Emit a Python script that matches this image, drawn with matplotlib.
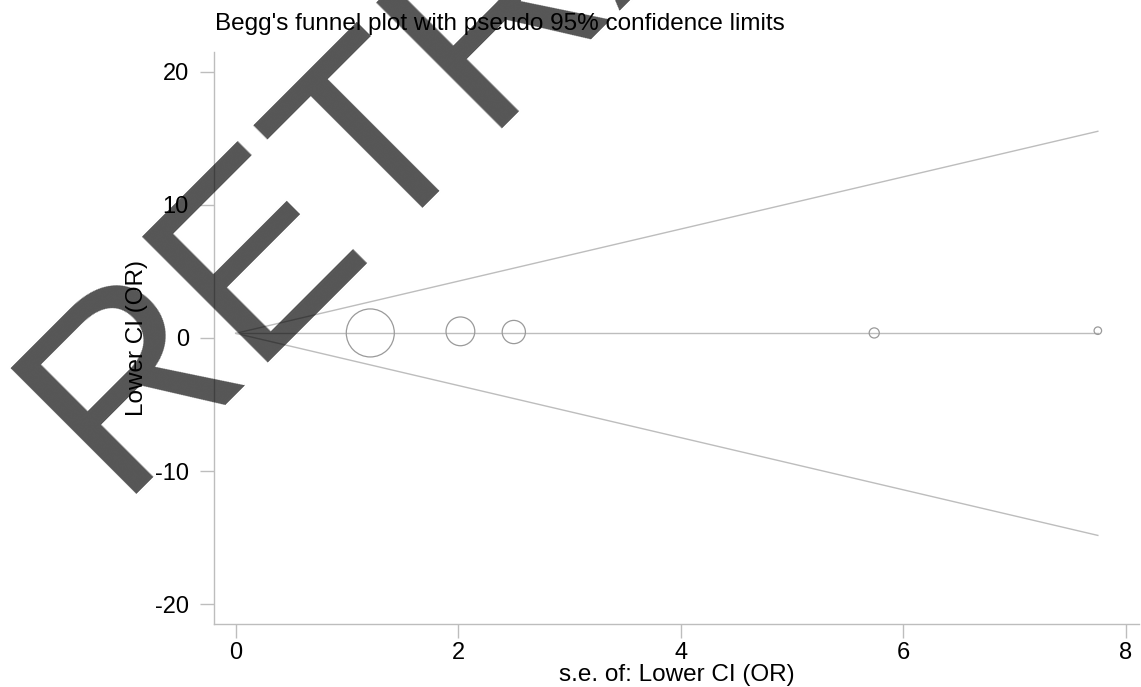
import matplotlib
matplotlib.use("Agg")
import matplotlib.pyplot as plt
import numpy as np

plt.rcParams['font.family'] = ['Liberation Sans', 'DejaVu Sans']

# study data
se = [1.21, 2.02, 2.50, 5.74, 7.75]          # s.e. of lower CI (OR)
lower_ci = [0.38, 0.50, 0.45, 0.38, 0.55]    # lower CI (OR)
pooled = 0.35                               # pooled estimate (centre line)

x_ticks = [0, 2, 4, 6, 8]
y_ticks = [-20, -10, 0, 10, 20]

fig = plt.figure(figsize=(11.41, 6.87), dpi=100)
ax = fig.add_axes([214/1141, 1 - 624/687, (1139-214)/1141, (624-52)/687])

grey = '#bdbdbd'

# pseudo 95% confidence limits
se_max = max(se)
xs = np.array([0, se_max])
ax.plot(xs, pooled + 1.96*xs, color=grey, lw=1.0)
ax.plot(xs, pooled - 1.96*xs, color=grey, lw=1.0)
ax.plot(xs, [pooled, pooled], color=grey, lw=1.0)

# marker area proportional to weight 1/se^2
w = 1/np.array(se)**2
ax.scatter(se, lower_ci, s=w*1750, facecolors='none', edgecolors='#9a9a9a', linewidths=0.9, zorder=3)

ax.set_xlim(-0.195, 8.12)
ax.set_ylim(-21.5, 21.5)
ax.set_xticks(x_ticks)
ax.set_yticks(y_ticks)
ax.set_yticklabels([str(v) for v in y_ticks])

for s in ['top', 'right']:
    ax.spines[s].set_visible(False)
for s in ['left', 'bottom']:
    ax.spines[s].set_color(grey)
    ax.spines[s].set_linewidth(1.0)

ax.tick_params(axis='x', length=10, width=1, color=grey, labelsize=17, pad=3)
ax.tick_params(axis='y', length=10, width=1, color=grey, labelsize=17, pad=8)

ax.set_xlabel('s.e. of: Lower CI (OR)', fontsize=17.5, labelpad=0)
ax.set_ylabel('Lower CI (OR)', fontsize=17.5, labelpad=5)

fig.text(215/1141, 1 - 30/687, "Begg's funnel plot with pseudo 95% confidence limits",
         fontsize=17.5, ha='left', va='baseline')

# retraction watermark
fig.text(116/1141, 1 - 494/687, 'RETRACTED', rotation=45, rotation_mode='anchor',
         ha='left', va='baseline', fontsize=186.5, color='black', alpha=0.667, zorder=10)

fig.savefig('out.png', dpi=100)
